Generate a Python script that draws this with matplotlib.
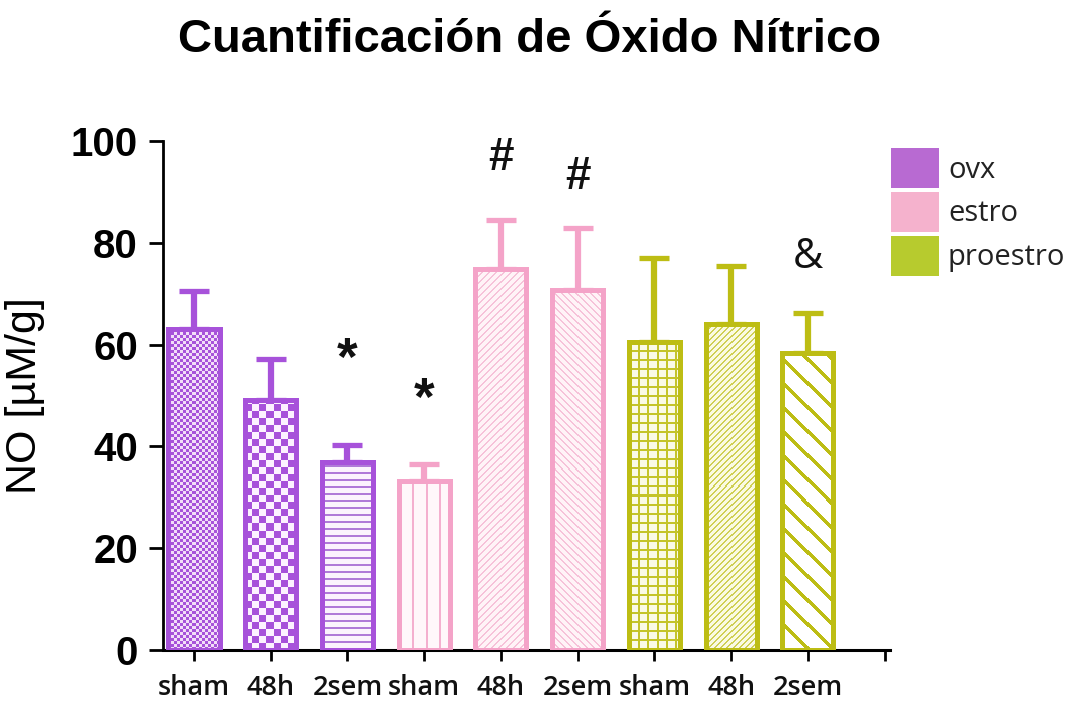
import numpy as np
import matplotlib
matplotlib.use("Agg")
import matplotlib.pyplot as plt
from matplotlib.patches import Patch

# ---- data ----
groups = ["ovx", "estro", "proestro"]
conditions = ["sham", "48h", "2sem"]
ovx_mean = [63.0, 49.2, 37.0]
ovx_sem = [7.5, 7.9, 3.2]
estro_mean = [33.3, 74.8, 70.8]
estro_sem = [3.2, 9.6, 12.2]
proestro_mean = [60.6, 64.1, 58.4]
proestro_sem = [16.5, 11.4, 7.9]
marks = ["", "", "*", "*", "#", "#", "", "", "&"]
y_ticks = [0, 20, 40, 60, 80, 100]

means = ovx_mean + estro_mean + proestro_mean
sems = ovx_sem + estro_sem + proestro_sem
labels = conditions * 3

# ---- styles ----
edge_colors = ["#A752DA"] * 3 + ["#F4A3C8"] * 3 + ["#BDBD14"] * 3
legend_colors = ["#B86AD2", "#F5B2CD", "#B7CB2E"]
# (pattern kind, foreground, background)
patterns = [
    ("checker3", "#A752DA", "#F2DDF8"),
    ("checker7", "#A752DA", "#FCF2FF"),
    ("hlines", "#B07AD8", "#FBF3FD"),
    ("vlines", "#F4B0CF", "#FFF7FA"),
    ("fwd", "#F6C2D9", "#FFF3F7"),
    ("back", "#F6C2D9", "#FFF3F7"),
    ("grid", "#C4C42A", "#FAFAE6"),
    ("fwd_dense", "#CFCF55", "#FAFAE2"),
    ("back_wide", "#BDBD14", "#FFFFFF"),
]
mark_offsets = [0, 0, 16.5, 12.5, 12.3, 10.0, 0, 0, 11]
mark_sizes = {"*": 38, "#": 33, "&": 30}

TITLE_FONT = "Liberation Sans"
LABEL_FONT = "Open Sans"


def pattern_image(kind, w, h, fg, bg):
    i = np.arange(w)[None, :]
    j = np.arange(h)[:, None]
    if kind == "checker3":
        m = ((i // 3) + (j // 3)) % 2 == 0
    elif kind == "checker7":
        m = ((i // 7) + (j // 7)) % 2 == 0
    elif kind == "hlines":
        m = (j % 7 < 2) & (i >= 0)
    elif kind == "vlines":
        m = (i % 13 < 2) & (j >= 0)
    elif kind == "fwd":
        m = (i - j) % 7 < 2
    elif kind == "back":
        m = (i + j) % 7 < 2
    elif kind == "grid":
        m = (i % 9 < 2) | (j % 9 < 2)
    elif kind == "fwd_dense":
        m = (i - j) % 6 < 2
    elif kind == "back_wide":
        m = (i + j) % 24 < 5
    else:
        m = np.zeros((h, w), bool)
    fgc = np.array(matplotlib.colors.to_rgba(fg))
    bgc = np.array(matplotlib.colors.to_rgba(bg))
    return np.where(m[..., None], fgc, bgc)


fig = plt.figure(figsize=(10.75, 7.02), dpi=100)
ax = fig.add_axes([163 / 1075, 1 - 650 / 702, (890 - 163) / 1075, (650 - 141) / 702])

x = np.arange(len(means))
ax.set_xlim(-0.404, 9.07)
ax.set_ylim(0, 100)

# error bars (upper only), below the bars
for xi, m, s, c in zip(x, means, sems, edge_colors):
    ax.errorbar(xi, m, yerr=[[0], [s]], fmt="none", ecolor=c, elinewidth=4.5,
                capsize=10.8, capthick=3.8, zorder=1)

bars = ax.bar(x, means, width=0.665, facecolor="none", edgecolor=edge_colors,
              linewidth=3.6, zorder=3)

# fill patterns inside each bar
fig.canvas.draw()
for bar, (kind, fg, bg) in zip(bars, patterns):
    x0, y0 = bar.get_x(), bar.get_y()
    x1, y1 = x0 + bar.get_width(), y0 + bar.get_height()
    (px0, py0), (px1, py1) = ax.transData.transform([(x0, y0), (x1, y1)])
    w = max(int(round(px1 - px0)), 1)
    h = max(int(round(py1 - py0)), 1)
    img = pattern_image(kind, w, h, fg, bg)
    ax.imshow(img, extent=(x0, x1, y0, y1), origin="lower", aspect="auto",
              interpolation="nearest", zorder=2)
ax.set_xlim(-0.404, 9.07)
ax.set_ylim(0, 100)

# significance marks
for xi, m, s, lab, off in zip(x, means, sems, marks, mark_offsets):
    if not lab:
        continue
    fam = LABEL_FONT if lab == "&" else TITLE_FONT
    wt = "normal" if lab == "&" else "bold"
    ax.text(xi, m + s + off, lab, ha="center", va="center",
            fontsize=mark_sizes[lab], family=fam, fontweight=wt,
            color="#111111", zorder=4)

# axes styling
for side in ("top", "right"):
    ax.spines[side].set_visible(False)
ax.spines["left"].set_linewidth(2.0)
ax.spines["bottom"].set_linewidth(2.2)
ax.set_yticks(y_ticks)
ax.set_xticks(list(x) + [9])
ax.set_xticklabels(labels + [""])
ax.tick_params(axis="y", direction="out", length=10, width=2.0, pad=8,
               labelsize=29)
ax.tick_params(axis="x", direction="out", length=8, width=2.0, pad=9,
               labelsize=19.5)
for t in ax.get_yticklabels():
    t.set_family(TITLE_FONT)
    t.set_fontweight("bold")
for t in ax.get_xticklabels():
    t.set_family(LABEL_FONT)
    t.set_fontweight("semibold")
    t.set_color("#111111")

ax.set_ylabel("NO [µM/g]", fontsize=31, family=TITLE_FONT)
ax.yaxis.set_label_coords(-0.162, 0.5)

fig.text(530 / 1075, 1 - 40 / 702, "Cuantificación de Óxido Nítrico",
         ha="center", va="center", fontsize=34, fontweight="bold",
         family=TITLE_FONT)

handles = [Patch(facecolor=c, edgecolor="none") for c in legend_colors]
leg = fig.legend(handles, groups, loc="upper left",
                 bbox_to_anchor=(891 / 1075, 1 - 148 / 702), frameon=False,
                 prop={"family": LABEL_FONT, "size": 21},
                 handlelength=1.65, handleheight=1.75, labelspacing=0.12,
                 handletextpad=0.3, borderpad=0, borderaxespad=0)
for t in leg.get_texts():
    t.set_color("#222222")

fig.savefig("out.png", dpi=100)
